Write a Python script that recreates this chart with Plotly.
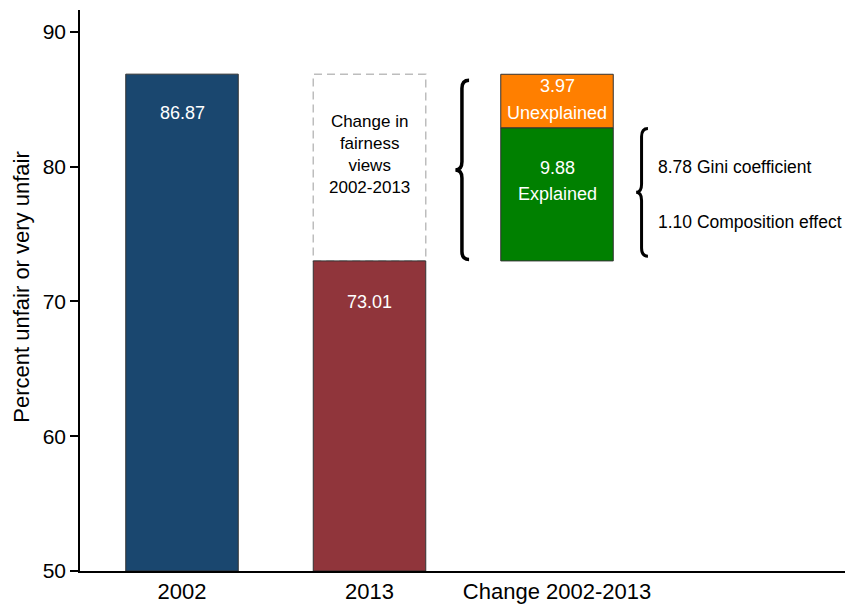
import plotly.graph_objects as go

# ---- data ----
categories = ["2002", "2013", "Change 2002-2013"]
cat_pos = [0, 1, 2]
value_2002 = 86.87
value_2013 = 73.01
explained = 9.88
unexplained = 3.97
gini = 8.78
composition = 1.10
y_ticks = [50, 60, 70, 80, 90]

BLUE = "#1a476f"
MAROON = "#90353b"
GREEN = "#008000"
ORANGE = "#ff7f00"
OUTLINE = "#333333"
FONT = "Liberation Sans, Arial, sans-serif"
BW = 0.6

fig = go.Figure()

explained_top = value_2013 + explained
total_top = explained_top + unexplained

fig.add_trace(go.Bar(x=[cat_pos[0]], y=[value_2002 - 50], base=[50], width=BW,
                     marker=dict(color=BLUE, line=dict(color=OUTLINE, width=1)),
                     hoverinfo="skip"))
fig.add_trace(go.Bar(x=[cat_pos[1]], y=[value_2013 - 50], base=[50], width=BW,
                     marker=dict(color=MAROON, line=dict(color=OUTLINE, width=1)),
                     hoverinfo="skip"))
fig.add_trace(go.Bar(x=[cat_pos[2]], y=[explained], base=[value_2013], width=BW,
                     marker=dict(color=GREEN, line=dict(color=OUTLINE, width=1)),
                     hoverinfo="skip"))
fig.add_trace(go.Bar(x=[cat_pos[2]], y=[unexplained], base=[explained_top], width=BW,
                     marker=dict(color=ORANGE, line=dict(color=OUTLINE, width=1)),
                     hoverinfo="skip"))

# dashed outline of the change
fig.add_shape(type="rect", xref="x", yref="y",
              x0=cat_pos[1] - BW / 2, x1=cat_pos[1] + BW / 2,
              y0=value_2013, y1=value_2002,
              line=dict(color="#bdbdbd", width=1.5, dash="8px,5px"),
              fillcolor="rgba(0,0,0,0)", layer="below")


def brace(x_end, x_vert, x_tip, y_top, y_bot, r):
    ym = (y_top + y_bot) / 2
    return (f"M {x_end},{y_top} Q {x_vert},{y_top} {x_vert},{y_top - r} "
            f"L {x_vert},{ym + r} Q {x_vert},{ym} {x_tip},{ym} "
            f"Q {x_vert},{ym} {x_vert},{ym - r} "
            f"L {x_vert},{y_bot + r} Q {x_vert},{y_bot} {x_end},{y_bot}")


# left brace spanning total change
fig.add_shape(type="path", xref="x", yref="y",
              path=brace(1.531, 1.493, 1.458, value_2002 - 0.45, value_2013 + 0.1, 0.6),
              line=dict(color="black", width=3.5))
# right brace spanning explained part
fig.add_shape(type="path", xref="x", yref="y",
              path=brace(2.485, 2.451, 2.422, explained_top - 0.05, value_2013 + 0.35, 0.6),
              line=dict(color="black", width=3))

ann = []


def label(x, y, text, yshift, size=18, color="white", xanchor="center"):
    ann.append(dict(x=x, y=y, xref="x", yref="y", text=text, showarrow=False,
                    yshift=yshift, yanchor="middle", xanchor=xanchor,
                    font=dict(family=FONT, size=size, color=color)))


label(cat_pos[0], value_2002, f"{value_2002:.2f}", -39)
label(cat_pos[1], value_2013, f"{value_2013:.2f}", -41)
label(cat_pos[2], total_top, f"{unexplained:.2f}", -12)
label(cat_pos[2], total_top, "Unexplained", -38.5)
label(cat_pos[2], explained_top, f"{explained:.2f}", -40)
label(cat_pos[2], explained_top, "Explained", -66.5)

label(cat_pos[1], value_2002, "Change in<br>fairness<br>views<br>2002-2013", -80,
      size=17, color="black")

label(2.527, 80.0, f"{gini:.2f} Gini coefficient", 0, size=17.5, color="black", xanchor="left")
label(2.527, 75.92, f"{composition:.2f} Composition effect", 0, size=17.5, color="black", xanchor="left")

ann.append(dict(x=0, y=0.505, xref="paper", yref="paper", xshift=-58,
                text="Percent unfair or very unfair", textangle=-90, showarrow=False,
                xanchor="center", yanchor="middle",
                font=dict(family=FONT, size=22, color="black")))

fig.update_layout(
    width=848, height=610, autosize=False,
    margin=dict(l=80, r=3, t=10, b=39),
    paper_bgcolor="white", plot_bgcolor="white",
    showlegend=False, barmode="overlay",
    font=dict(family=FONT, color="black"),
    annotations=ann,
    xaxis=dict(range=[-0.544, 3.536], tickvals=cat_pos, ticktext=categories,
               ticks="", showline=True, linecolor="black", linewidth=1.5,
               showgrid=False, zeroline=False,
               tickfont=dict(family=FONT, size=22, color="black")),
    yaxis=dict(range=[50, 91.63], tickvals=y_ticks, ticks="outside", ticklen=8,
               tickwidth=1.5, tickcolor="black", showline=True, linecolor="black",
               linewidth=1.5, showgrid=False, zeroline=False,
               tickfont=dict(family=FONT, size=21, color="black")),
)

fig.write_html("out.html", config={"displayModeBar": False},
               post_script="document.body.style.margin='0';document.body.style.padding='0';")
